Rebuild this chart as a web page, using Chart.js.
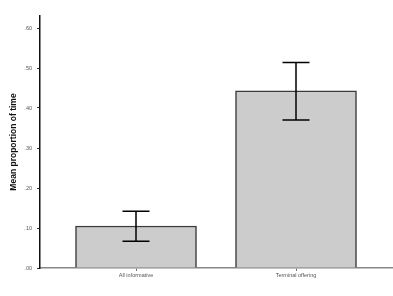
<!DOCTYPE html>
<html>
<head>
<meta charset="utf-8">
<script src="https://cdn.jsdelivr.net/npm/chart.js@4"></script>
<style>
  html, body { margin: 0; padding: 0; background: #fff; }
  #wrap { width: 393px; height: 296px; }
</style>
</head>
<body>
<div id="wrap"><canvas id="grafico" width="393" height="296"></canvas></div>
<script>
// dados do gráfico
var categorias = ['All informative', 'Terminal offering'];
var medias = [0.105, 0.443];
var erroSuperior = [0.142, 0.514];
var erroInferior = [0.067, 0.370];
var ticksY = [0, 0.1, 0.2, 0.3, 0.4, 0.5, 0.6];
var rotulosY = ['.00', '.10', '.20', '.30', '.40', '.50', '.60'];

// pontos (posição da categoria 1, 2 no eixo x)
var pontos = medias.map((v, i) => ({ x: i + 1, y: v }));

// plugin para as barras de erro
var barrasErro = {
    id: 'barrasErro',
    afterDatasetsDraw(chart) {
        var ctx = chart.ctx;
        var sx = chart.scales.x, sy = chart.scales.y;
        ctx.save();
        ctx.strokeStyle = '#000';
        ctx.lineWidth = 1.5;
        for (var i = 0; i < medias.length; i++) {
            var cx = sx.getPixelForValue(i + 1);
            var yt = sy.getPixelForValue(erroSuperior[i]);
            var yb = sy.getPixelForValue(erroInferior[i]);
            ctx.beginPath();
            ctx.moveTo(cx, yt); ctx.lineTo(cx, yb);
            ctx.moveTo(cx - 13.5, yt); ctx.lineTo(cx + 13.5, yt);
            ctx.moveTo(cx - 13.5, yb); ctx.lineTo(cx + 13.5, yb);
            ctx.stroke();
        }
        ctx.restore();
    }
};

var ctx = document.getElementById('grafico').getContext('2d');
new Chart(ctx, {
    type: 'bar',
    data: {
        datasets: [{
            data: pontos,
            backgroundColor: '#cccccc',
            borderColor: '#3a3a3a',
            borderWidth: 1.5,
            borderSkipped: 'bottom',
            barThickness: 121
        }]
    },
    options: {
        responsive: false,
        animation: false,
        layout: { padding: { top: 16, right: 1, left: 0, bottom: 0 } },
        plugins: { legend: { display: false }, tooltip: { enabled: false } },
        scales: {
            x: {
                type: 'linear',
                min: 0.4,
                max: 2.6,
                offset: false,
                afterBuildTicks: s => { s.ticks = [{ value: 1 }, { value: 2 }]; },
                afterFit: s => { s.height = 28; },
                ticks: {
                    callback: v => categorias[v - 1],
                    font: { family: 'Liberation Sans', size: 5.5 },
                    color: '#555',
                    padding: 1,
                    maxRotation: 0,
                    autoSkip: false
                },
                grid: { display: true, offset: false, drawOnChartArea: false, tickLength: 3, color: '#777', lineWidth: 1 },
                border: { color: '#888', width: 1.5 }
            },
            y: {
                min: 0,
                max: 0.63,
                afterBuildTicks: s => { s.ticks = ticksY.map(v => ({ value: v })); },
                afterFit: s => { s.width = 40; },
                ticks: {
                    callback: (v, i) => rotulosY[i],
                    font: { family: 'Liberation Sans', size: 5.5 },
                    color: '#555',
                    padding: 5
                },
                grid: { display: true, drawOnChartArea: false, tickLength: 3, color: '#333', lineWidth: 1 },
                border: { color: '#111', width: 1.5 },
                title: {
                    display: true,
                    text: 'Mean proportion of time',
                    font: { family: 'Liberation Sans', size: 8.5, weight: 'bold' },
                    color: '#111',
                    padding: { top: 9, bottom: 0 }
                }
            }
        }
    },
    plugins: [barrasErro]
});
</script>
</body>
</html>
